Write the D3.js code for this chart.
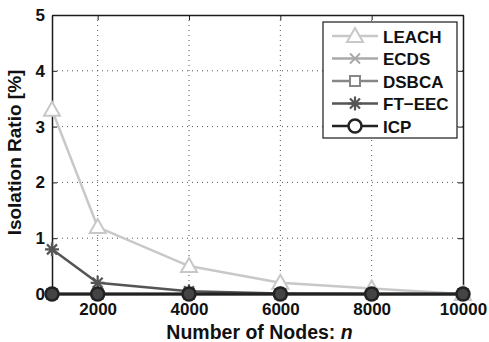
<!DOCTYPE html>
<html>
<head>
<meta charset="utf-8">
<script src="https://cdn.jsdelivr.net/npm/d3@7"></script>
<style>
  body { margin: 0; background: #fff; }
  text { font-family: "Liberation Sans", Arial, sans-serif; font-weight: bold; fill: #111; }
</style>
</head>
<body>
<div id="chart"></div>
<script>
// data
var nodes = [1000, 2000, 4000, 6000, 8000, 10000];
var leach = [3.3, 1.2, 0.5, 0.2, 0.1, 0.0];
var ecds = [0, 0, 0, 0, 0, 0];
var dsbca = [0, 0, 0, 0, 0, 0];
var ftEec = [0.8, 0.2, 0.05, 0.01, 0.0, 0.0];
var icp = [0, 0, 0, 0, 0, 0];
var xTicks = [2000, 4000, 6000, 8000, 10000];
var yTicks = [0, 1, 2, 3, 4, 5];

var series = [
  { name: "LEACH", values: leach, color: "#c8c8c8", marker: "triangle" },
  { name: "ECDS", values: ecds, color: "#a9a9a9", marker: "x" },
  { name: "DSBCA", values: dsbca, color: "#878787", marker: "square" },
  { name: "FT\u2212EEC", values: ftEec, color: "#555555", marker: "star" },
  { name: "ICP", values: icp, color: "#222222", marker: "circle" }
];

var W = 489, H = 342;
var margin = { top: 15, right: 26, bottom: 48, left: 52 },
    width = W - margin.left - margin.right,
    height = H - margin.top - margin.bottom;

var svg = d3.select("#chart")
  .append("svg")
  .attr("width", W)
  .attr("height", H)
  .append("g")
  .attr("transform", "translate(" + margin.left + "," + margin.top + ")");

var x = d3.scaleLinear().domain([1000, 10000]).range([0, width]);
var y = d3.scaleLinear().domain([0, 5]).range([height, 0]);

// dotted grid
svg.append("g").selectAll("line")
  .data(xTicks.slice(0, -1))
  .enter().append("line")
  .attr("x1", function (d) { return x(d); })
  .attr("x2", function (d) { return x(d); })
  .attr("y1", 0).attr("y2", height)
  .attr("stroke", "#555").attr("stroke-width", 1)
  .attr("stroke-dasharray", "1,4");
svg.append("g").selectAll("line")
  .data(yTicks.slice(1, -1))
  .enter().append("line")
  .attr("y1", function (d) { return y(d); })
  .attr("y2", function (d) { return y(d); })
  .attr("x1", 0).attr("x2", width)
  .attr("stroke", "#555").attr("stroke-width", 1)
  .attr("stroke-dasharray", "1,4");

// axes with inward ticks
svg.append("g")
  .attr("transform", "translate(0," + height + ")")
  .call(d3.axisBottom(x).tickValues(xTicks).tickFormat(d3.format("d"))
    .tickSize(-5).tickPadding(9).tickSizeOuter(0));
svg.append("g")
  .call(d3.axisLeft(y).tickValues(yTicks).tickFormat(d3.format("d"))
    .tickSize(-5).tickPadding(7).tickSizeOuter(0));
svg.append("g")
  .call(d3.axisTop(x).tickValues(xTicks).tickSize(-5).tickSizeOuter(0).tickFormat(""));
svg.append("g")
  .attr("transform", "translate(" + width + ",0)")
  .call(d3.axisRight(y).tickValues(yTicks).tickSize(-5).tickSizeOuter(0).tickFormat(""));

svg.selectAll(".domain").attr("stroke", "#1a1a1a").attr("stroke-width", 1.5);
svg.selectAll(".tick line").attr("stroke", "#1a1a1a");
svg.selectAll(".tick text")
  .attr("font-size", null)
  .attr("font-family", null)
  .style("font-size", "17px")
  .style("font-weight", "bold")
  .attr("fill", "#111");

// marker drawing
function drawMarker(g, type, color, fill) {
  if (type === "triangle") {
    g.append("path").attr("d", "M0,-8 L8,6 L-8,6 Z")
      .attr("fill", "#fff").attr("stroke", color).attr("stroke-width", 2);
  } else if (type === "x") {
    g.append("path").attr("d", "M-5,-5 L5,5 M-5,5 L5,-5")
      .attr("fill", "none").attr("stroke", color).attr("stroke-width", 2);
  } else if (type === "square") {
    g.append("rect").attr("x", -5).attr("y", -5).attr("width", 10).attr("height", 10)
      .attr("fill", "#fff").attr("stroke", color).attr("stroke-width", 2);
  } else if (type === "star") {
    g.append("path").attr("d", "M-7,0 L7,0 M0,-7 L0,7 M-5,-5 L5,5 M-5,5 L5,-5")
      .attr("fill", "none").attr("stroke", color).attr("stroke-width", 2.2);
  } else if (type === "circle") {
    g.append("circle").attr("r", 6.5)
      .attr("fill", fill || "none").attr("stroke", color).attr("stroke-width", 2.5);
  }
}

var line = d3.line()
  .x(function (d, i) { return x(nodes[i]); })
  .y(function (d) { return y(d); });

series.forEach(function (s) {
  svg.append("path")
    .datum(s.values)
    .attr("fill", "none")
    .attr("stroke", s.color)
    .attr("stroke-width", s.name === "ICP" ? 3 : 2.5)
    .attr("d", line);
  s.values.forEach(function (v, i) {
    var g = svg.append("g")
      .attr("transform", "translate(" + x(nodes[i]) + "," + y(v) + ")");
    drawMarker(g, s.marker, s.color, s.marker === "circle" ? "#444" : null);
  });
});

// legend
var lg = svg.append("g").attr("transform", "translate(" + (323 - margin.left) + "," + (22 - margin.top) + ")");
lg.append("rect").attr("width", 134).attr("height", 116)
  .attr("fill", "#fff").attr("stroke", "#1a1a1a").attr("stroke-width", 1.2);
series.forEach(function (s, i) {
  var row = lg.append("g").attr("transform", "translate(0," + (14 + i * 22.5) + ")");
  row.append("line").attr("x1", 9).attr("x2", 55).attr("y1", 0).attr("y2", 0)
    .attr("stroke", s.color).attr("stroke-width", 2.5);
  drawMarker(row.append("g").attr("transform", "translate(32,0)"), s.marker, s.color, "#fff");
  row.append("text").attr("x", 60).attr("y", 6.5)
    .style("font-size", "17px")
    .text(s.name);
});

// axis titles
svg.append("text")
  .attr("x", width / 2 + 2).attr("y", height + 45)
  .attr("text-anchor", "middle")
  .style("font-size", "19.5px")
  .text("Number of Nodes: ")
  .append("tspan").style("font-style", "italic").text("n");

svg.append("text")
  .attr("transform", "translate(" + (-31) + "," + (height / 2 - 2) + ") rotate(-90)")
  .attr("text-anchor", "middle")
  .style("font-size", "19px")
  .text("Isolation Ratio [%]");
</script>
</body>
</html>
